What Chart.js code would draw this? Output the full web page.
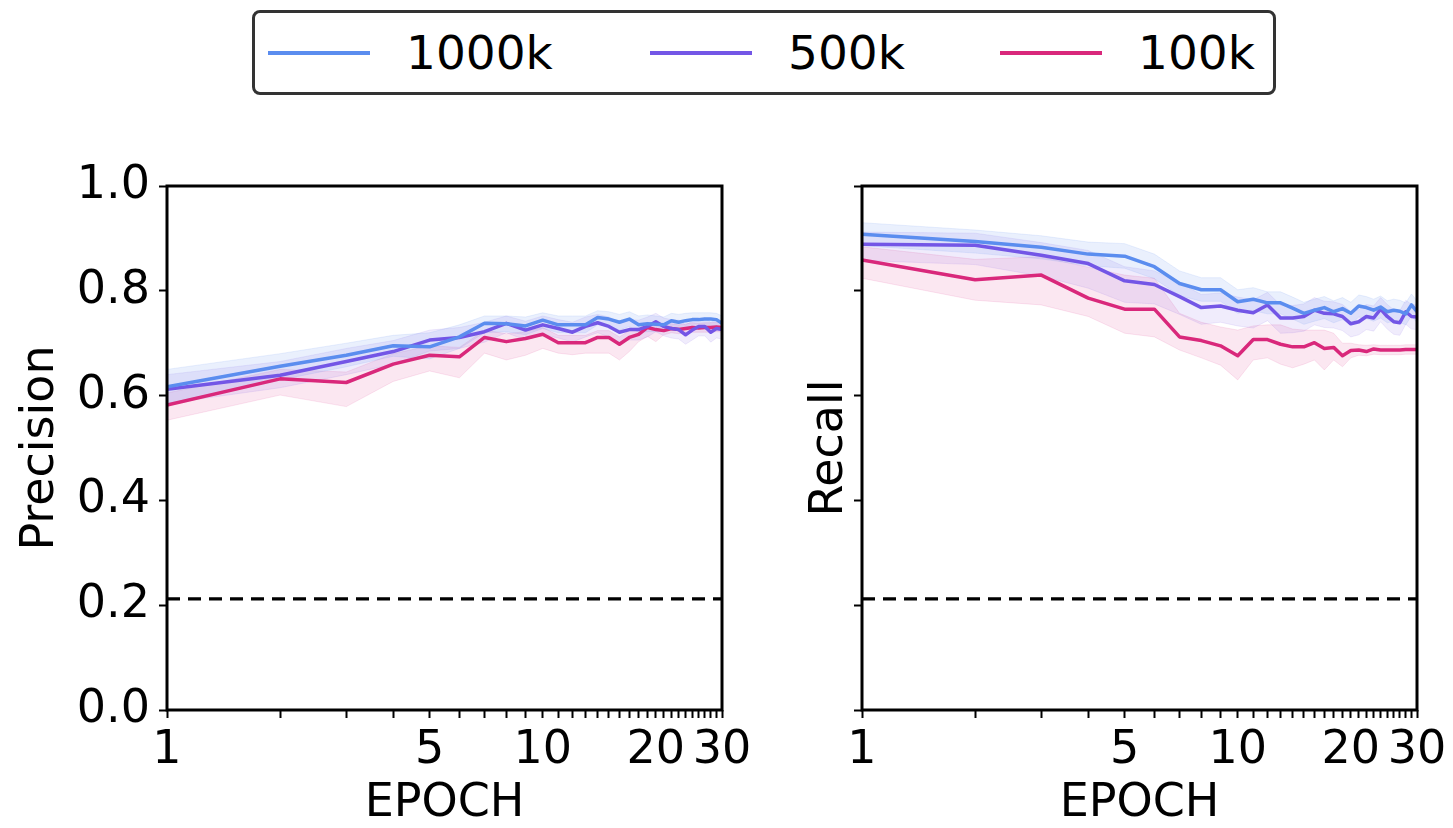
<!DOCTYPE html>
<html>
<head>
<meta charset="utf-8">
<script src="https://cdn.jsdelivr.net/npm/chart.js@4.4.1/dist/chart.umd.min.js"></script>
<style>
body{margin:0;background:#fff;width:1453px;height:828px;overflow:hidden;position:relative;font-family:"DejaVu Sans",sans-serif;color:#000}
#legend{position:absolute;left:252px;top:10px;width:1018px;height:79px;border:3px solid #333;border-radius:8px}
.item{position:absolute;top:0;height:79px;display:flex;align-items:center;font-size:47px}
.item .line{display:inline-block;width:102px;height:4px;margin-right:36px}
#c1{position:absolute;left:0;top:130px}
#c2{position:absolute;left:760px;top:130px}
</style>
</head>
<body>

<div id="legend">
  <div class="item" style="left:13px"><span class="line" style="background:#5b8def"></span>1000k</div>
  <div class="item" style="left:395px"><span class="line" style="background:#7356e6"></span>500k</div>
  <div class="item" style="left:745px"><span class="line" style="background:#d9287b"></span>100k</div>
</div>

<canvas id="c1" width="760" height="698"></canvas>
<canvas id="c2" width="693" height="698"></canvas>

<script>
// DATA
const epochs = [1,2,3,4,5,6,7,8,9,10,11,12,13,14,15,16,17,18,19,20,21,22,23,24,25,26,27,28,29,30];
const xTickLabels = [1, 5, 10, 20, 30];
const yTicks = [0, 0.2, 0.4, 0.6, 0.8, 1.0];
const randomLine = 0.212;

// precision
const prec1000 = [0.617,0.656,0.677,0.695,0.693,0.712,0.738,0.737,0.733,0.744,0.735,0.735,0.735,0.749,0.746,0.740,0.746,0.735,0.737,0.736,0.735,0.743,0.740,0.743,0.745,0.745,0.746,0.746,0.745,0.738];
const prec1000Hi = [0.650,0.680,0.700,0.715,0.720,0.735,0.752,0.752,0.750,0.758,0.752,0.752,0.752,0.762,0.760,0.755,0.760,0.752,0.754,0.752,0.750,0.757,0.755,0.757,0.758,0.758,0.758,0.758,0.757,0.752];
const prec1000Lo = [0.585,0.630,0.655,0.675,0.670,0.690,0.720,0.722,0.716,0.728,0.720,0.720,0.720,0.735,0.732,0.725,0.732,0.720,0.722,0.722,0.722,0.730,0.726,0.730,0.732,0.732,0.734,0.734,0.733,0.724];
const prec500 = [0.612,0.639,0.665,0.684,0.706,0.711,0.722,0.738,0.725,0.735,0.728,0.721,0.732,0.739,0.732,0.721,0.726,0.726,0.732,0.741,0.732,0.728,0.726,0.716,0.725,0.732,0.732,0.721,0.728,0.726];
const prec500Hi = [0.640,0.665,0.690,0.705,0.725,0.730,0.740,0.752,0.742,0.752,0.745,0.740,0.750,0.755,0.750,0.740,0.745,0.744,0.750,0.757,0.748,0.745,0.744,0.735,0.742,0.748,0.748,0.740,0.745,0.742];
const prec500Lo = [0.585,0.615,0.640,0.660,0.685,0.690,0.702,0.720,0.706,0.716,0.710,0.702,0.712,0.720,0.712,0.702,0.706,0.706,0.712,0.722,0.714,0.710,0.708,0.698,0.706,0.714,0.714,0.702,0.710,0.708];
const prec100 = [0.582,0.632,0.625,0.660,0.677,0.674,0.711,0.703,0.709,0.717,0.701,0.701,0.701,0.711,0.711,0.698,0.711,0.717,0.730,0.726,0.724,0.728,0.726,0.728,0.730,0.729,0.730,0.730,0.731,0.730];
const prec100Hi = [0.605,0.650,0.645,0.680,0.695,0.692,0.725,0.718,0.722,0.730,0.715,0.715,0.715,0.724,0.724,0.712,0.724,0.728,0.740,0.736,0.734,0.737,0.735,0.737,0.739,0.738,0.739,0.739,0.740,0.739];
const prec100Lo = [0.553,0.601,0.579,0.627,0.647,0.634,0.681,0.668,0.677,0.690,0.681,0.678,0.681,0.681,0.681,0.668,0.684,0.703,0.713,0.703,0.716,0.720,0.718,0.720,0.721,0.721,0.721,0.721,0.722,0.721];

// recall
const rec1000 = [0.908,0.894,0.883,0.870,0.866,0.846,0.814,0.802,0.802,0.779,0.784,0.777,0.777,0.767,0.757,0.763,0.768,0.760,0.766,0.757,0.771,0.768,0.763,0.769,0.760,0.763,0.761,0.756,0.773,0.760];
const rec1000Hi = [0.930,0.916,0.905,0.893,0.890,0.870,0.838,0.825,0.825,0.802,0.806,0.798,0.798,0.788,0.778,0.784,0.789,0.781,0.787,0.778,0.792,0.789,0.784,0.790,0.781,0.784,0.782,0.777,0.794,0.781];
const rec1000Lo = [0.886,0.872,0.861,0.848,0.843,0.823,0.791,0.780,0.780,0.757,0.762,0.756,0.756,0.746,0.736,0.742,0.747,0.739,0.745,0.736,0.750,0.747,0.742,0.748,0.739,0.742,0.740,0.735,0.752,0.739];
const rec500 = [0.889,0.887,0.868,0.852,0.819,0.812,0.789,0.768,0.771,0.763,0.758,0.773,0.748,0.748,0.751,0.763,0.757,0.756,0.751,0.737,0.741,0.751,0.748,0.765,0.751,0.741,0.739,0.760,0.751,0.750];
const rec500Hi = [0.912,0.910,0.892,0.877,0.846,0.838,0.815,0.793,0.796,0.788,0.783,0.797,0.773,0.772,0.775,0.787,0.780,0.779,0.774,0.760,0.764,0.774,0.771,0.787,0.774,0.764,0.762,0.782,0.774,0.773];
const rec500Lo = [0.858,0.850,0.828,0.805,0.778,0.775,0.755,0.736,0.740,0.733,0.729,0.743,0.719,0.720,0.723,0.735,0.730,0.729,0.724,0.712,0.716,0.726,0.723,0.741,0.727,0.717,0.715,0.736,0.727,0.726];
const rec100 = [0.859,0.821,0.830,0.786,0.765,0.765,0.712,0.705,0.695,0.676,0.707,0.707,0.698,0.693,0.693,0.701,0.690,0.692,0.676,0.686,0.687,0.684,0.689,0.687,0.687,0.687,0.687,0.688,0.688,0.688];
const rec100Hi = [0.884,0.860,0.865,0.845,0.830,0.824,0.757,0.740,0.731,0.725,0.733,0.735,0.735,0.727,0.725,0.725,0.725,0.719,0.700,0.700,0.697,0.696,0.697,0.696,0.696,0.696,0.696,0.697,0.697,0.697];
const rec100Lo = [0.824,0.782,0.773,0.751,0.719,0.712,0.687,0.672,0.658,0.630,0.668,0.672,0.660,0.653,0.660,0.668,0.649,0.668,0.655,0.672,0.677,0.676,0.679,0.678,0.678,0.678,0.678,0.679,0.679,0.679];

const colors = {
  "1000k": ["#5b8def", "rgba(91,141,239,0.13)"],
  "500k":  ["#7356e6", "rgba(115,86,230,0.11)"],
  "100k":  ["#d9287b", "rgba(217,40,123,0.11)"]
};

Chart.defaults.font.family = '"DejaVu Sans", sans-serif';
Chart.defaults.color = "#000";

function pts(vals){
  return vals.map((v, i) => ({x: epochs[i], y: v}));
}

// box around the plot area
const framePlugin = {
  id: "frame",
  afterDatasetsDraw(chart){
    const a = chart.chartArea;
    const ctx = chart.ctx;
    ctx.save();
    ctx.lineWidth = 3;
    ctx.strokeStyle = "#000";
    ctx.strokeRect(a.left, a.top, a.right - a.left, a.bottom - a.top);
    ctx.restore();
  }
};

function makeChart(id, yTitle, showLabels, series, yWidth, titlePad, padRight){

let canvas = document.getElementById(id);
canvas.height = 704;

let datasets = [];

series.forEach(s => {
  let c = colors[s.label];
  datasets.push({label: s.label, data: pts(s.mean), borderColor: c[0], borderWidth: 3.5,
    pointRadius: 0, fill: false, borderJoinStyle: "round", order: 0});
});

datasets.push({label: "random", data: [{x: epochs[0], y: randomLine}, {x: epochs[epochs.length - 1], y: randomLine}],
  borderColor: "#000", borderWidth: 3.3, borderDash: [13, 8], pointRadius: 0, fill: false, order: 1});

series.forEach(s => {
  let c = colors[s.label];
  datasets.push({data: pts(s.hi), borderColor: c[1], backgroundColor: c[1], borderWidth: 1,
    pointRadius: 0, fill: "+1", order: 2});
  datasets.push({data: pts(s.lo), borderColor: c[1], borderWidth: 1, pointRadius: 0, fill: false, order: 2});
});

return new Chart(canvas, {
  type: "line",
  data: {datasets: datasets},
  options: {
    responsive: false,
    animation: false,
    layout: {padding: {top: 56, right: padRight, bottom: 0, left: 0}},
    plugins: {legend: {display: false}, tooltip: {enabled: false}},
    scales: {
      x: {
        type: "logarithmic",
        min: 1,
        max: 30,
        border: {display: false},
        grid: {drawOnChartArea: false, drawTicks: true, tickLength: 8, tickColor: "#000", tickWidth: 2},
        afterBuildTicks: scale => { scale.ticks = epochs.map(v => ({value: v})); },
        afterFit: scale => { scale.height = 124; scale.paddingLeft = 0; scale.paddingRight = 0; },
        ticks: {
          autoSkip: false, maxRotation: 0, minRotation: 0, padding: 5,
          font: {size: 46},
          callback: v => xTickLabels.includes(v) ? String(v) : ""
        },
        title: {display: true, text: "EPOCH", font: {size: 46}, padding: {top: 0, bottom: 2}}
      },
      y: {
        min: 0,
        max: 1,
        border: {display: false},
        grid: {drawOnChartArea: false, drawTicks: true, tickLength: 8, tickColor: "#000", tickWidth: 2},
        afterBuildTicks: scale => { scale.ticks = yTicks.map(v => ({value: v})); },
        afterFit: scale => { scale.width = yWidth; scale.paddingTop = 0; scale.paddingBottom = 0; },
        ticks: {
          padding: 9,
          font: {size: 46},
          callback: v => showLabels ? v.toFixed(1) : ""
        },
        title: {display: true, text: yTitle, font: {size: 46}, padding: {top: titlePad, bottom: 0}}
      }
    }
  },
  plugins: [framePlugin]
});
}

// PRECISION
makeChart("c1", "Precision", true, [
  {label: "1000k", mean: prec1000, hi: prec1000Hi, lo: prec1000Lo},
  {label: "500k", mean: prec500, hi: prec500Hi, lo: prec500Lo},
  {label: "100k", mean: prec100, hi: prec100Hi, lo: prec100Lo}
], 167, 13, 38);

// RECALL
makeChart("c2", "Recall", false, [
  {label: "1000k", mean: rec1000, hi: rec1000Hi, lo: rec1000Lo},
  {label: "500k", mean: rec500, hi: rec500Hi, lo: rec500Lo},
  {label: "100k", mean: rec100, hi: rec100Hi, lo: rec100Lo}
], 102, 42, 36);
</script>
</body>
</html>
